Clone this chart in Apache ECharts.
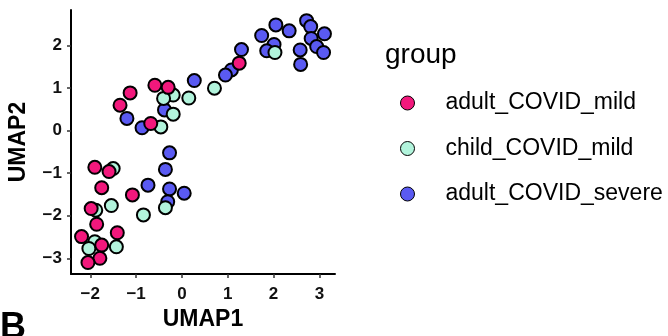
<!DOCTYPE html>
<html>
<head>
<meta charset="utf-8">
<script src="https://cdn.jsdelivr.net/npm/echarts@6/dist/echarts.min.js"></script>
<style>
html,body{margin:0;padding:0;background:#fff;}
#chart{width:668px;height:336px;}
</style>
</head>
<body>
<div id="chart"></div>
<script>
const groups = ['adult_COVID_mild', 'child_COVID_mild', 'adult_COVID_severe'];
const colors = ['#F2187C', '#B2F4DC', '#5A5AF2'];

const adultMildX = [1.25, -0.59, -0.30, -1.13, -1.35, -0.68, -1.90, -1.59, -1.75, -1.08, -1.98, -1.86, -1.41, -2.19, -1.75, -1.79, -2.05];
const adultMildY = [1.59, 1.07, 1.02, 0.89, 0.60, 0.17, -0.86, -0.96, -1.34, -1.51, -1.83, -2.20, -2.40, -2.49, -2.69, -3.00, -3.10];

const childMildX = [2.03, 0.71, 0.15, -0.19, -0.40, -0.19, -0.46, -1.50, -1.54, -1.88, -0.84, -0.36, -1.90, -2.03, -1.43];
const childMildY = [1.84, 1.00, 0.77, 0.84, 0.76, 0.39, 0.09, -0.89, -1.76, -1.87, -1.98, -1.81, -2.61, -2.77, -2.73];

const adultSevereX = [2.72, 2.81, 2.05, 2.34, 1.74, 3.11, 2.82, 2.01, 1.85, 2.94, 2.58, 3.09, 2.59, 1.30, 1.08, 0.95, 0.27, -0.38, -1.20, -0.87, -0.27, -0.36, -0.74, -0.27, 0.05, -0.31];
const adultSevereY = [2.59, 2.45, 2.49, 2.35, 2.24, 2.28, 2.17, 2.03, 1.88, 1.98, 1.90, 1.84, 1.56, 1.91, 1.43, 1.31, 1.18, 0.49, 0.29, 0.07, -0.52, -0.91, -1.28, -1.37, -1.47, -1.67];

const xTicks = [-2, -1, 0, 1, 2, 3];
const yTicks = [-3, -2, -1, 0, 1, 2];

const FONT = "'Liberation Sans', Arial, sans-serif";
function pairs(xs, ys) { return xs.map((x, i) => [x, ys[i]]); }
const fmt = v => String(v).replace('-', '\u2212');

const seriesData = [
  pairs(adultMildX, adultMildY),
  pairs(childMildX, childMildY),
  pairs(adultSevereX, adultSevereY)
];
const drawOrder = [2, 1, 0];

const chart = echarts.init(document.getElementById('chart'), null, {renderer: 'canvas'});
chart.setOption({
  animation: false,
  backgroundColor: '#fff',
  textStyle: {fontFamily: FONT},
  grid: {left: 71, top: 10, width: 264, height: 264, containLabel: false},
  title: {
    text: 'group', left: 380, top: 36,
    textStyle: {fontFamily: FONT, fontSize: 28, fontWeight: 'normal', color: '#000'}
  },
  legend: {
    orient: 'vertical', left: 395, top: 86,
    data: groups,
    icon: 'circle', itemWidth: 14, itemHeight: 14, itemGap: 21.5,
    itemStyle: {borderColor: '#000', borderWidth: 1},
    textStyle: {fontFamily: FONT, fontSize: 23, color: '#000', lineHeight: 24, padding: [0, 0, 0, 26]}
  },
  xAxis: {
    type: 'value', min: -2.42, max: 3.34,
    name: 'UMAP1', nameLocation: 'middle', nameGap: 31,
    nameTextStyle: {fontFamily: FONT, fontSize: 23, fontWeight: 'bold', color: '#000'},
    axisLine: {show: true, onZero: false, lineStyle: {color: '#000', width: 2}},
    axisTick: {show: true, length: 4, customValues: xTicks, lineStyle: {color: '#333', width: 1.5}},
    axisLabel: {customValues: xTicks, formatter: fmt, margin: 12, fontFamily: FONT, fontSize: 17, fontWeight: 'bold', color: '#111'},
    splitLine: {show: false}
  },
  yAxis: {
    type: 'value', min: -3.37, max: 2.84,
    name: 'UMAP2', nameLocation: 'middle', nameGap: 41, nameRotate: 90,
    nameTextStyle: {fontFamily: FONT, fontSize: 23, fontWeight: 'bold', color: '#000'},
    axisLine: {show: true, onZero: false, lineStyle: {color: '#000', width: 2}},
    axisTick: {show: true, length: 4, customValues: yTicks, lineStyle: {color: '#333', width: 1.5}},
    axisLabel: {customValues: yTicks, formatter: fmt, margin: 9, fontFamily: FONT, fontSize: 17, fontWeight: 'bold', color: '#111'},
    splitLine: {show: false}
  },
  graphic: [{
    type: 'text', left: 0, top: 310,
    style: {text: 'B', font: "bold 36px 'Liberation Sans', Arial, sans-serif", fill: '#000'}
  }],
  series: drawOrder.map(i => ({
    type: 'scatter', name: groups[i], data: seriesData[i],
    symbol: 'circle', symbolSize: 13,
    itemStyle: {color: colors[i], borderColor: '#000', borderWidth: 2, opacity: 1},
    emphasis: {disabled: true}
  }))
});
</script>
</body>
</html>
